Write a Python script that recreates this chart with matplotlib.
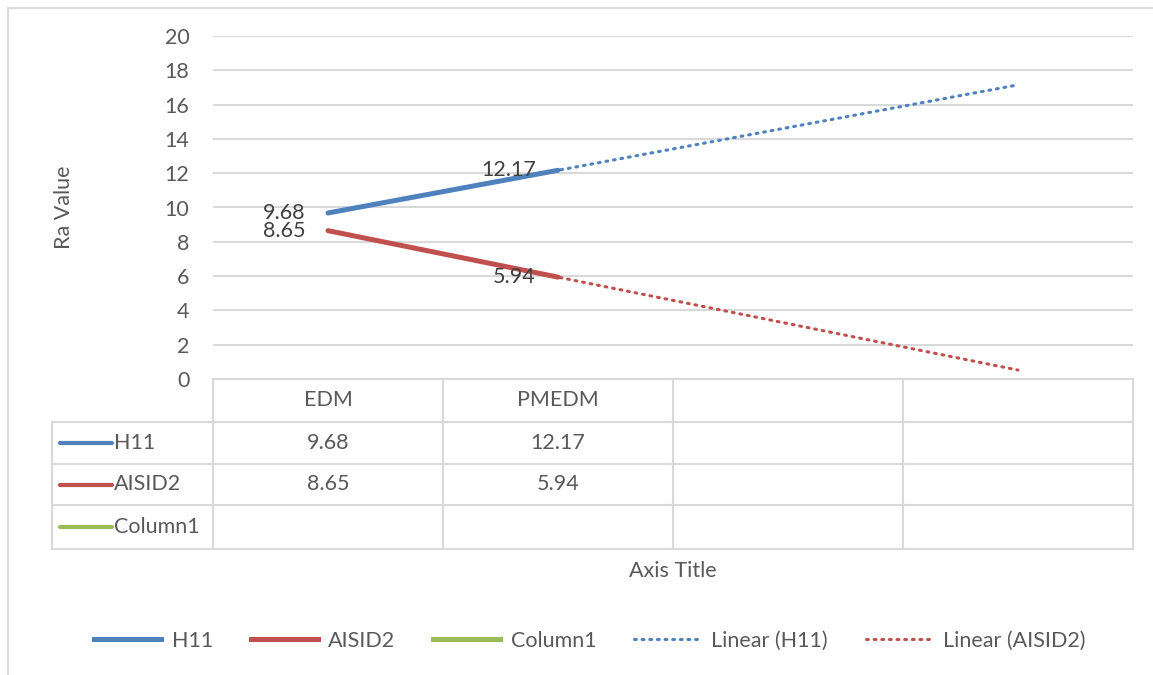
import numpy as np
import matplotlib
matplotlib.use("Agg")
import matplotlib.pyplot as plt
from matplotlib.lines import Line2D
from matplotlib.patches import Rectangle

categories = ["EDM", "PMEDM", "", ""]
h11 = [9.68, 12.17]
aisid2 = [8.65, 5.94]
column1 = []
series_names = ["H11", "AISID2", "Column1"]
y_ticks = [0, 2, 4, 6, 8, 10, 12, 14, 16, 18, 20]

BLUE = "#4F81BD"
RED = "#C0504D"
GREEN = "#9BBB59"
GRID = "#D9D9D9"
TXT = "#595959"
FS = 15.5

plt.rcParams["font.family"] = ["Lato", "DejaVu Sans"]
plt.rcParams["text.color"] = TXT

W, H = 1153, 675
fig = plt.figure(figsize=(W / 100, H / 100), dpi=100)


def fx(px):
    return px / W


def fy(py):
    return 1 - py / H


# outer chart frame
fig.patches.append(Rectangle((fx(8), fy(700)), 1.2, fy(8) - fy(700),
                             transform=fig.transFigure, fill=False,
                             edgecolor=GRID, linewidth=1.5))

left, right, top, bottom = 213, 1133, 36, 379
ax = fig.add_axes([fx(left), fy(bottom), fx(right - left), fy(top) - fy(bottom)])
ncat = len(categories)
ax.set_xlim(-0.5, ncat - 0.5)
ax.set_ylim(0, 20)
ax.set_yticks(y_ticks)
ax.tick_params(axis="y", length=0, labelsize=FS, labelcolor=TXT, pad=17)
ax.set_xticks([])
for s in ax.spines.values():
    s.set_visible(False)
ax.grid(axis="y", color=GRID, linewidth=1.5)
ax.set_axisbelow(True)
ax.set_ylabel("Ra Value", fontsize=FS, color=TXT, labelpad=65)

# trend lines (linear fit through the two points, extended over all categories)
xs = np.arange(len(h11))
xt = np.arange(ncat)
for vals, col in [(h11, BLUE), (aisid2, RED)]:
    k, b = np.polyfit(xs, vals, 1)
    ax.plot(xt, k * xt + b, color=col, linewidth=2.2, linestyle=(0, (0.6, 1.9)),
            dash_capstyle="round", zorder=2)

ax.plot(xs, h11, color=BLUE, linewidth=3.6, solid_capstyle="round", zorder=3)
ax.plot(xs, aisid2, color=RED, linewidth=3.6, solid_capstyle="round", zorder=3)

for vals in (h11, aisid2):
    for x, v in zip(xs, vals):
        ax.annotate(f"{v:.2f}", (x, v), xytext=(-16, 0), textcoords="offset points",
                    ha="right", va="center", fontsize=FS, color="#404040")

# data table below the plot
tleft, tbottom = 52, 549
row_edges = [379, 422, 464, 505, 549]
tax = fig.add_axes([fx(tleft), fy(tbottom), fx(right - tleft), fy(379) - fy(tbottom)])
unit = (right - left) / ncat
xl = -0.5 - (left - tleft) / unit
tax.set_xlim(xl, ncat - 0.5)
tax.set_ylim(tbottom, 379)
tax.axis("off")
lw = 1.5
# horizontal lines
tax.plot([-0.5, ncat - 0.5], [row_edges[0]] * 2, color=GRID, lw=lw, clip_on=False)
for r in row_edges[1:]:
    tax.plot([xl, ncat - 0.5], [r, r], color=GRID, lw=lw, clip_on=False)
# vertical lines
for c in np.arange(-0.5, ncat, 1.0):
    tax.plot([c, c], [row_edges[0], row_edges[-1]], color=GRID, lw=lw, clip_on=False)
tax.plot([xl, xl], [row_edges[1], row_edges[-1]], color=GRID, lw=lw, clip_on=False)

for i, c in enumerate(categories):
    tax.text(i, (row_edges[0] + row_edges[1]) / 2, c, ha="center", va="center",
             fontsize=FS, color=TXT)
table_vals = [h11, aisid2, column1]
colors = [BLUE, RED, GREEN]
for r, (name, vals, col) in enumerate(zip(series_names, table_vals, colors)):
    yc = (row_edges[r + 1] + row_edges[r + 2]) / 2
    x0 = xl + 8 / unit
    tax.plot([x0, x0 + 52 / unit], [yc, yc], color=col, lw=3, solid_capstyle="round",
             clip_on=False)
    tax.text(x0 + 54 / unit, yc, name, ha="left", va="center", fontsize=FS, color=TXT)
    for i, v in enumerate(vals):
        tax.text(i, yc, f"{v:.2f}", ha="center", va="center", fontsize=FS, color=TXT)

fig.text(fx((left + right) / 2), fy(571), "Axis Title", ha="center", va="center",
         fontsize=FS, color=TXT)

handles = [
    Line2D([], [], color=BLUE, lw=3.6),
    Line2D([], [], color=RED, lw=3.6),
    Line2D([], [], color=GREEN, lw=3.6),
    Line2D([], [], color=BLUE, lw=2.2, linestyle=(0, (0.6, 1.9)), dash_capstyle="round"),
    Line2D([], [], color=RED, lw=2.2, linestyle=(0, (0.6, 1.9)), dash_capstyle="round"),
]
labels = series_names + ["Linear (H11)", "Linear (AISID2)"]
fig.legend(handles, labels, loc="center", bbox_to_anchor=(fx(590), fy(641)), ncol=5,
           frameon=False, fontsize=FS, handlelength=3.1, handletextpad=0.5,
           columnspacing=1.75)

fig.savefig("out.png", dpi=100)
